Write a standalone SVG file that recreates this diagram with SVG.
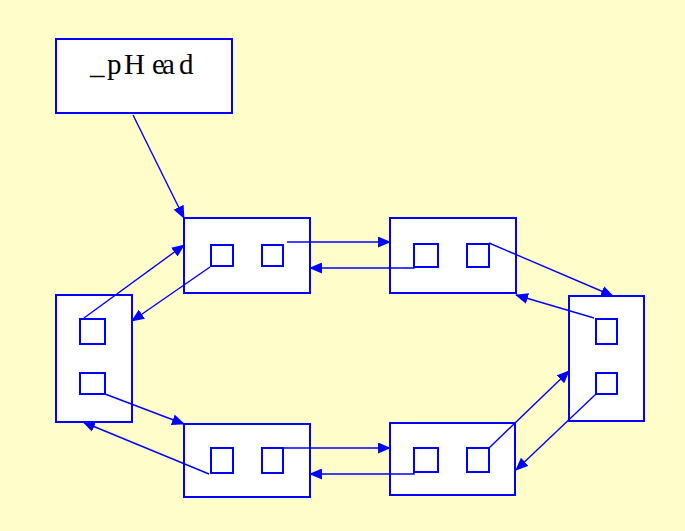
<svg xmlns="http://www.w3.org/2000/svg" width="685" height="531" viewBox="0 0 685 531">
<style>
.box{fill:#fff;stroke:#0000ff;stroke-width:2}
.sq{fill:#fff;stroke:#0000ff;stroke-width:2}
.ln{stroke:#0000ff;stroke-width:1.4;fill:none;marker-end:url(#ah)}
.lbl{font-family:"Liberation Serif","Times New Roman",serif;font-size:29px;fill:#000}
</style>
<defs>
<marker id="ah" markerWidth="13" markerHeight="11" refX="12" refY="5.5" orient="auto" markerUnits="userSpaceOnUse">
<path d="M0,0 L13,5.5 L0,11 Z" fill="#0000ff"/>
</marker>
</defs>
<rect width="685" height="531" fill="#fffdc9"/>
<g id="pHead">
<rect class="box" x="56" y="39" width="176" height="74"/>
<text class="lbl" x="90 107 124 152 162 179" y="74">_pHead</text>
</g>
<g id="nodeA">
<rect class="box" x="184" y="218" width="126" height="75"/>
<rect class="sq" x="211" y="245" width="22" height="21"/>
<rect class="sq" x="262" y="245" width="21" height="21"/>
</g>
<g id="nodeB">
<rect class="box" x="390" y="218" width="126" height="75"/>
<rect class="sq" x="414" y="244" width="24" height="23"/>
<rect class="sq" x="467" y="244" width="22" height="23"/>
</g>
<g id="nodeC">
<rect class="box" x="569" y="296" width="75" height="125"/>
<rect class="sq" x="596" y="319" width="21" height="25"/>
<rect class="sq" x="596" y="373" width="21" height="21"/>
</g>
<g id="nodeD">
<rect class="box" x="56" y="295" width="76" height="127"/>
<rect class="sq" x="80" y="319" width="25" height="25"/>
<rect class="sq" x="80" y="373" width="25" height="21"/>
</g>
<g id="nodeE">
<rect class="box" x="184" y="424" width="126" height="73"/>
<rect class="sq" x="211" y="448" width="22" height="25"/>
<rect class="sq" x="262" y="448" width="21" height="25"/>
</g>
<g id="nodeF">
<rect class="box" x="390" y="423" width="125" height="72"/>
<rect class="sq" x="414" y="448" width="24" height="24"/>
<rect class="sq" x="467" y="448" width="22" height="24"/>
</g>
<g id="connectors">
<line class="ln" x1="133" y1="115" x2="184" y2="218"/>
<line class="ln" x1="287" y1="242" x2="390" y2="242"/>
<polyline class="ln" points="414,267 414,268 310,268"/>
<line class="ln" x1="489" y1="243" x2="613" y2="296"/>
<line class="ln" x1="594" y1="318" x2="516" y2="295"/>
<line class="ln" x1="596" y1="394" x2="516" y2="470"/>
<line class="ln" x1="489" y1="448" x2="569" y2="371"/>
<line class="ln" x1="283" y1="448" x2="390" y2="448"/>
<polyline class="ln" points="414,472 414,474 310,474"/>
<line class="ln" x1="209" y1="474" x2="83" y2="422"/>
<line class="ln" x1="105" y1="394" x2="184" y2="424"/>
<line class="ln" x1="84" y1="318" x2="184" y2="245"/>
<line class="ln" x1="210" y1="267" x2="132" y2="321"/>
</g>
</svg>
